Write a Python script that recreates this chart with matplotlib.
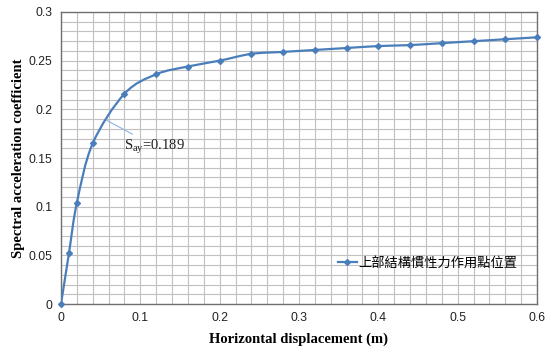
import numpy as np
import matplotlib
matplotlib.use("Agg")
import matplotlib.pyplot as plt
from matplotlib.path import Path
from matplotlib.patches import PathPatch
from matplotlib.lines import Line2D

# Data
disp = [0.0, 0.01, 0.02, 0.04, 0.08, 0.12, 0.16, 0.20, 0.24, 0.28, 0.32,
        0.36, 0.40, 0.44, 0.48, 0.52, 0.56, 0.60]
sa = [0.0, 0.052, 0.104, 0.165, 0.216, 0.236, 0.244, 0.250, 0.257, 0.259,
      0.261, 0.263, 0.265, 0.266, 0.268, 0.270, 0.272, 0.274]
series_name = "上部結構慣性力作用點位置"
say_x, say_y = 0.057, 0.189
say_label = r"S$_{\mathregular{ay}}$=0.189"
xticks = [0, 0.1, 0.2, 0.3, 0.4, 0.5, 0.6]
xticklabels = ["0", "0.1", "0.2", "0.3", "0.4", "0.5", "0.6"]
yticks = [0, 0.05, 0.1, 0.15, 0.2, 0.25, 0.3]
yticklabels = ["0", "0.05", "0.1", "0.15", "0.2", "0.25", "0.3"]

color = "#4a7ebb"

fig = plt.figure(figsize=(5.54, 3.58), dpi=100)
ax = fig.add_axes([0.1101, 0.1508, 0.8592, 0.8157])

# Smooth line (Catmull-Rom -> cubic Bezier), rendered as a path in data coords
x = np.array(disp); y = np.array(sa)
verts = [(x[0], y[0])]
codes = [Path.MOVETO]
t = 1.0 / 6.0
n = len(x)
for i in range(n - 1):
    p0 = np.array([x[max(i - 1, 0)], y[max(i - 1, 0)]])
    p1 = np.array([x[i], y[i]])
    p2 = np.array([x[i + 1], y[i + 1]])
    p3 = np.array([x[min(i + 2, n - 1)], y[min(i + 2, n - 1)]])
    c1 = p1 + (p2 - p0) * t
    c2 = p2 - (p3 - p1) * t
    verts += [tuple(c1), tuple(c2), tuple(p2)]
    codes += [Path.CURVE4] * 3
ax.add_patch(PathPatch(Path(verts, codes), fill=False, edgecolor=color,
                       linewidth=1.6, zorder=3))
ax.plot(disp, sa, linestyle="none", marker="D", markersize=3.0,
        color=color, zorder=4, clip_on=False)

ax.set_xlim(0, 0.6)
ax.set_ylim(0, 0.3)
ax.set_xticks(xticks)
ax.set_xticklabels(xticklabels)
ax.set_yticks(yticks)
ax.set_yticklabels(yticklabels)
ax.set_xticks(np.arange(0, 0.6001, 0.02), minor=True)
ax.set_yticks(np.arange(0, 0.3001, 0.01), minor=True)
ax.grid(True, which="both", color="#c0c0c0", linewidth=0.8)
ax.set_axisbelow(True)
ax.tick_params(which="both", length=0, pad=6)
for lab in ax.get_xticklabels() + ax.get_yticklabels():
    lab.set_fontfamily("Liberation Sans")
    lab.set_fontsize(8.8)
    lab.set_color("#222222")
for s in ax.spines.values():
    s.set_color("#707070")
    s.set_linewidth(1.0)

ax.set_xlabel("Horizontal displacement (m)", fontfamily="Liberation Serif",
              fontweight="bold", fontsize=10.5, labelpad=6)
ax.set_ylabel("Spectral acceleration coefficient", fontfamily="Liberation Serif",
              fontweight="bold", fontsize=10.5, labelpad=3)

ax.annotate(say_label, xy=(say_x, say_y), xytext=(0.08, 0.162),
            fontfamily="Liberation Serif", fontsize=10.5, color="#222222",
            arrowprops=dict(arrowstyle="-", color="#8eb4e3", linewidth=0.8,
                            shrinkA=0, shrinkB=0),
            ha="left", va="center")

handle = Line2D([], [], color=color, marker="D", markersize=3.0, linewidth=1.6)
leg = ax.legend([handle], [series_name], loc="lower left",
                bbox_to_anchor=(0.57, 0.1), frameon=False, handlelength=1.5,
                handletextpad=0.1, borderaxespad=0,
                prop={"family": ["Noto Sans CJK TC", "DejaVu Sans"], "size": 9.5})

fig.savefig("out.png", dpi=100)
